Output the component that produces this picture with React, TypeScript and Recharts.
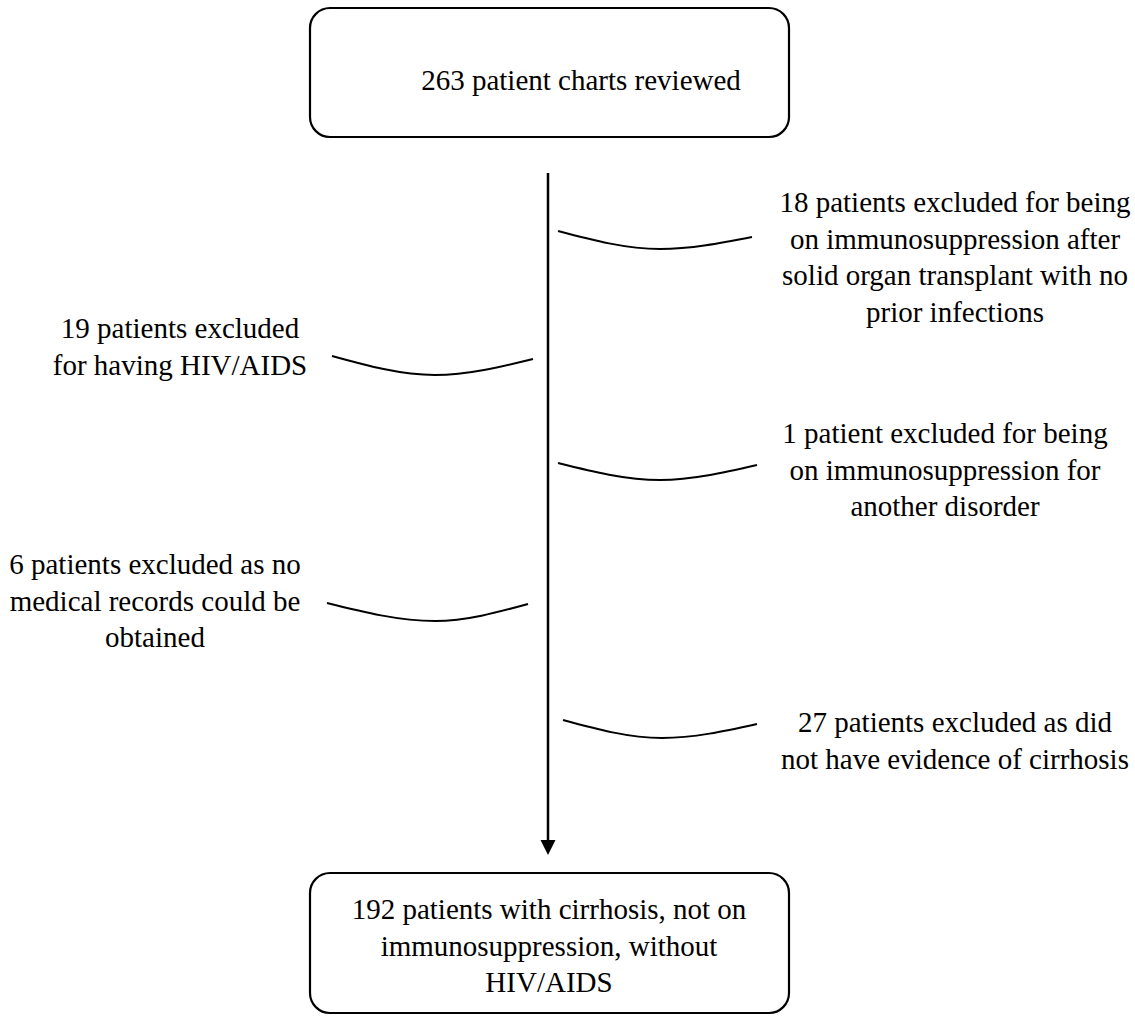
import {
  ComposedChart,
  XAxis,
  YAxis,
  Line,
  Scatter,
  ReferenceArea,
  ReferenceLine,
} from 'recharts';

// flow counts and wording
const reviewedLines = ['263 patient charts reviewed'];
const cohortLines = [
  '192 patients with cirrhosis, not on',
  'immunosuppression, without',
  'HIV/AIDS',
];
const exclusionLines = [
  [
    '18 patients excluded for being',
    'on immunosuppression after',
    'solid organ transplant with no',
    'prior infections',
  ],
  ['19 patients excluded', 'for having HIV/AIDS'],
  ['1 patient excluded for being', 'on immunosuppression for', 'another disorder'],
  ['6 patients excluded as no', 'medical records could be', 'obtained'],
  ['27 patients excluded as did', 'not have evidence of cirrhosis'],
];

// layout in page pixels (axis domain = page size)
const W = 1135;
const H = 1016;
const reviewedBox = { x1: 310, x2: 789, y1: 8, y2: 137 };
const cohortBox = { x1: 310, x2: 789, y1: 873, y2: 1013 };
const reviewedTextAt = { x: 581, y: 90 };
const cohortTextAt = { x: 549, y: 919 };
const exclusionTextAt = [
  { x: 955, y: 212 },
  { x: 180, y: 338 },
  { x: 945, y: 443 },
  { x: 155, y: 574 },
  { x: 955, y: 732 },
];
// connector curves: start, lowest point, end
const curveStart = [
  { x: 558, y: 231 },
  { x: 332, y: 356 },
  { x: 558, y: 463 },
  { x: 327, y: 603 },
  { x: 563, y: 720 },
];
const curveLow = [
  { x: 660, y: 249 },
  { x: 435, y: 375 },
  { x: 660, y: 480 },
  { x: 435, y: 621 },
  { x: 662, y: 738 },
];
const curveEnd = [
  { x: 752, y: 237 },
  { x: 533, y: 359 },
  { x: 757, y: 465 },
  { x: 528, y: 604 },
  { x: 757, y: 724 },
];
const mainLine = { x: 548, yTop: 173, yTip: 855 };

const FONT = 'Liberation Serif';
const FONT_SIZE = 29;
const LINE_GAP = 36.5;

const textBlocks = [
  { ...reviewedTextAt, lines: reviewedLines },
  { ...cohortTextAt, lines: cohortLines },
  ...exclusionLines.map((lines, i) => ({ ...exclusionTextAt[i], lines })),
];

const curves = curveStart.map((s, i) => [s, curveLow[i], curveEnd[i]]);

function TextBlock(props: any) {
  const { cx, cy, payload } = props;
  return (
    <g>
      {payload.lines.map((l: string, i: number) => (
        <text
          key={i}
          x={cx}
          y={cy + i * LINE_GAP}
          textAnchor="middle"
          fontSize={FONT_SIZE}
          fontFamily={FONT}
          fill="#000"
          style={{ fontFamily: FONT }}
        >
          {l}
        </text>
      ))}
    </g>
  );
}

function ArrowHead(props: any) {
  const { cx, cy } = props;
  return <path d={`M${cx - 7.5},${cy - 15} L${cx + 7.5},${cy - 15} L${cx},${cy} Z`} fill="#000" />;
}

const roundBox = (p: any) => (
  <rect
    x={p.x}
    y={p.y}
    width={p.width}
    height={p.height}
    rx={20}
    ry={20}
    fill="none"
    stroke="#000"
    strokeWidth={2.2}
  />
);

export default function App() {
  return (
    <div style={{ position: 'absolute', left: 0, top: 0, background: '#fff', fontFamily: FONT }}>
      <ComposedChart
        width={W}
        height={H}
        margin={{ top: 0, right: 0, bottom: 0, left: 0 }}
        style={{ fontFamily: FONT }}
      >
        <XAxis type="number" dataKey="x" domain={[0, W]} hide allowDataOverflow />
        <YAxis type="number" dataKey="y" domain={[0, H]} reversed hide allowDataOverflow />
        <ReferenceArea {...reviewedBox} ifOverflow="visible" shape={roundBox} />
        <ReferenceArea {...cohortBox} ifOverflow="visible" shape={roundBox} />
        <ReferenceLine
          segment={[
            { x: mainLine.x, y: mainLine.yTop },
            { x: mainLine.x, y: mainLine.yTip - 12 },
          ]}
          stroke="#000"
          strokeWidth={2.5}
          ifOverflow="visible"
        />
        {curves.map((pts, i) => (
          <Line
            key={i}
            data={pts}
            dataKey="y"
            type="monotoneX"
            stroke="#000"
            strokeWidth={2}
            dot={false}
            activeDot={false}
            isAnimationActive={false}
          />
        ))}
        <Scatter
          data={[{ x: mainLine.x, y: mainLine.yTip }]}
          dataKey="y"
          shape={ArrowHead}
          isAnimationActive={false}
        />
        <Scatter data={textBlocks} dataKey="y" shape={TextBlock} isAnimationActive={false} />
      </ComposedChart>
    </div>
  );
}
